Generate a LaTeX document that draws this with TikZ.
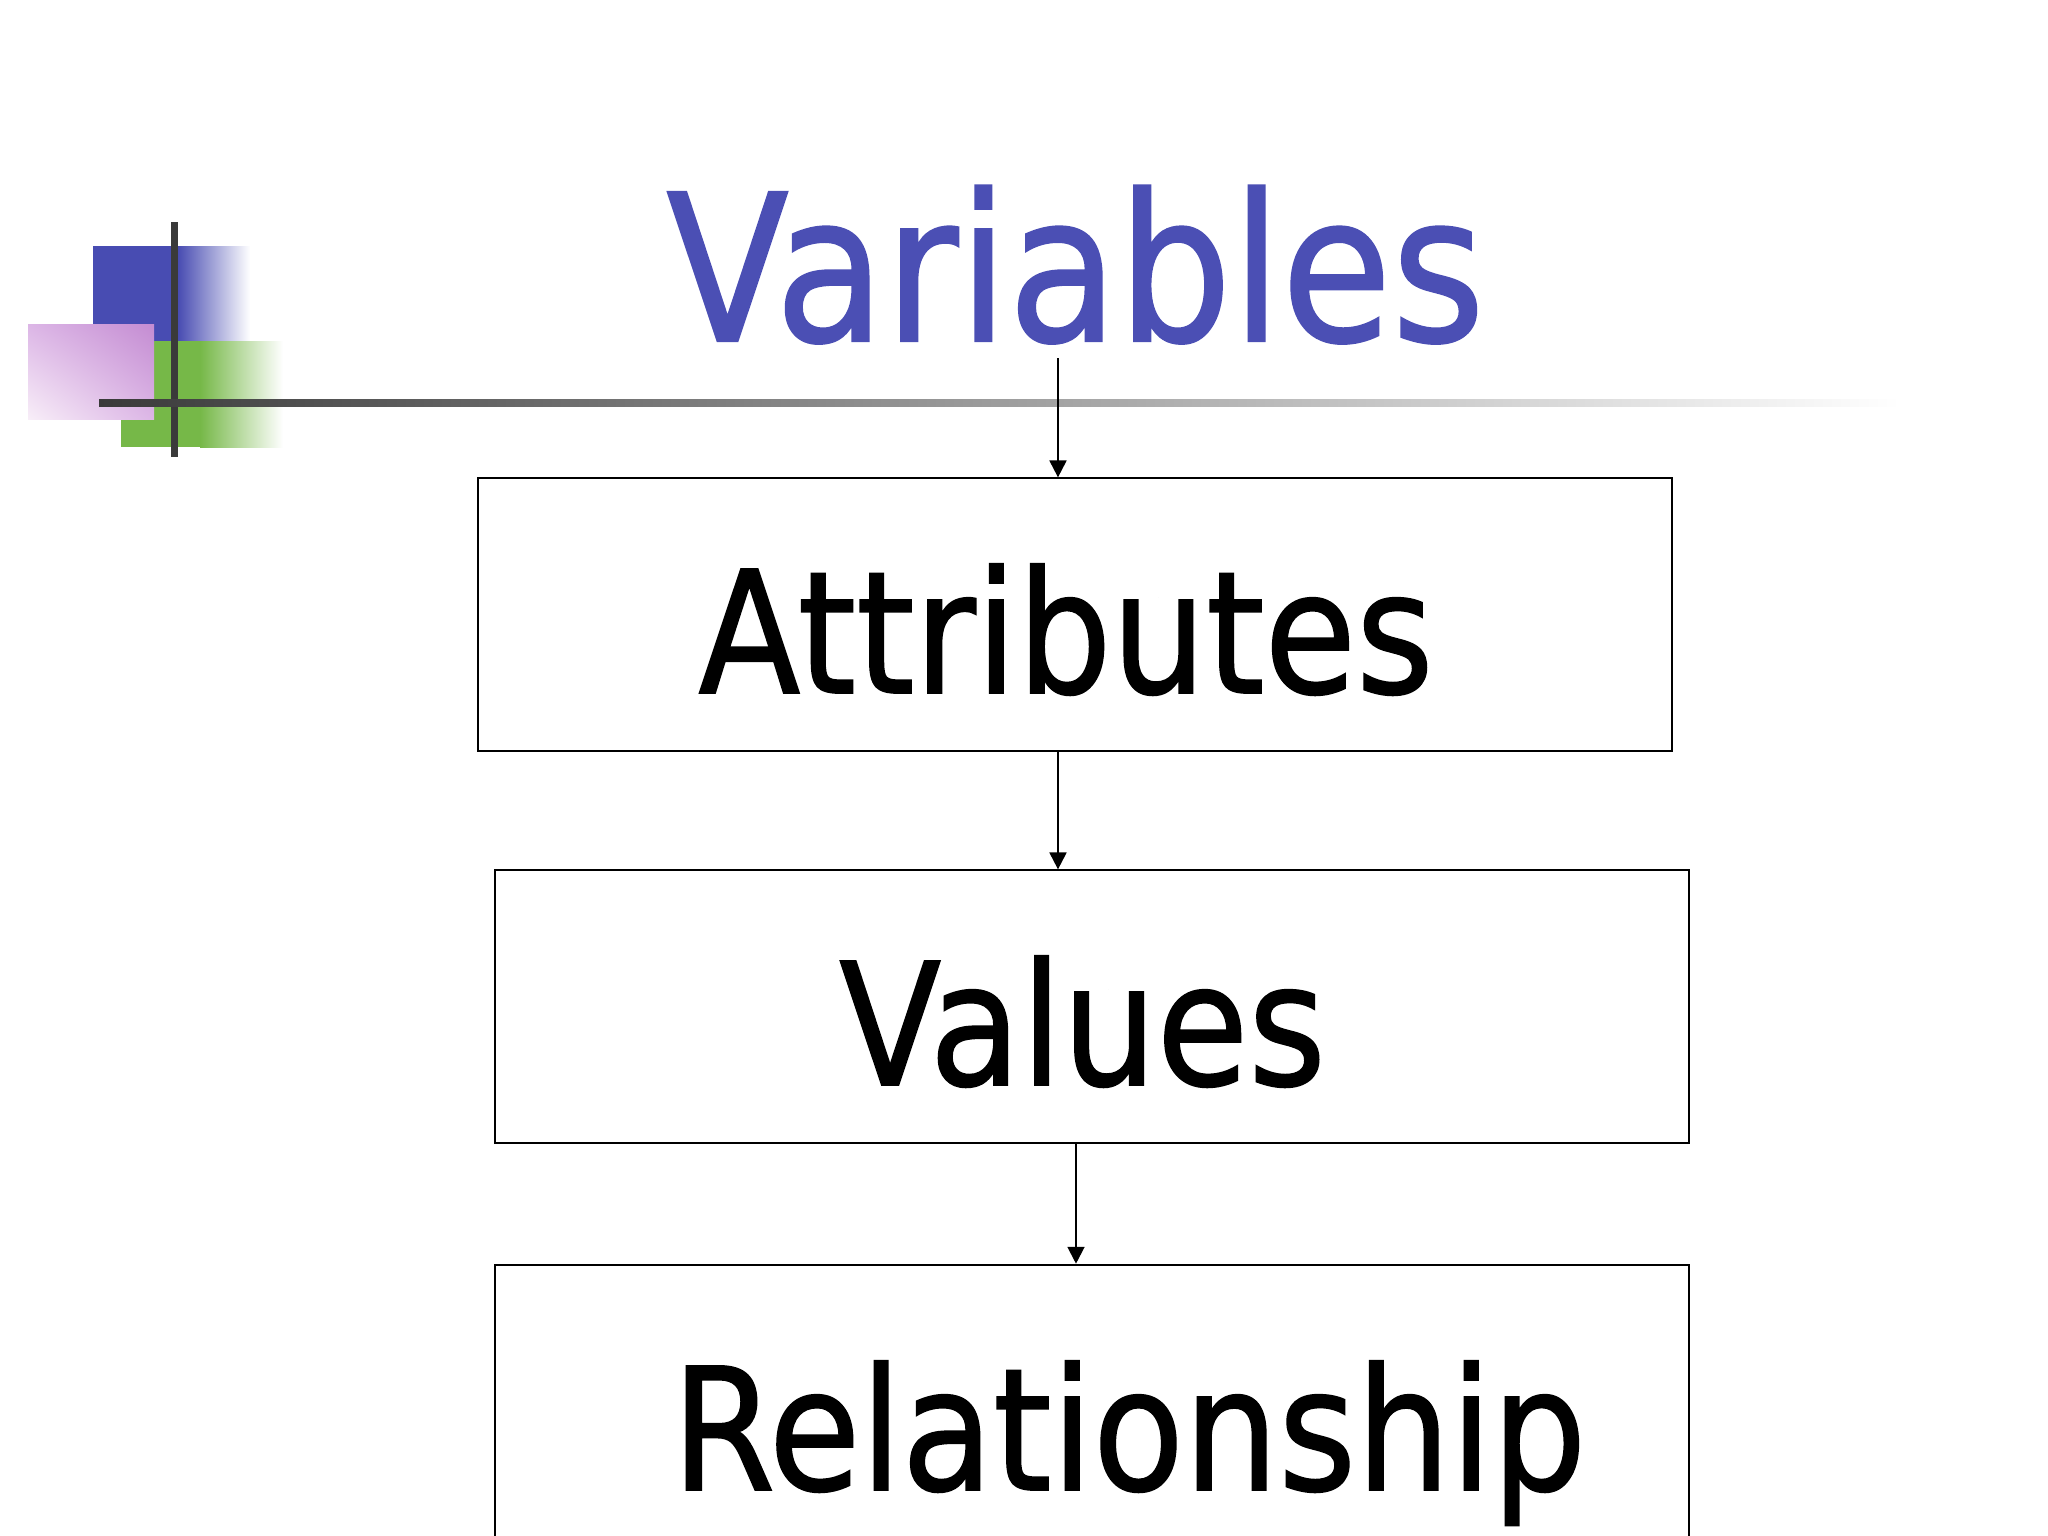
\documentclass[tikz,border=0pt]{standalone}
\usepackage{fontspec}
\newfontfamily\slidefont[FakeStretch=0.875, FakeBold=1]{DejaVu Sans}
\usetikzlibrary{arrows.meta}
\usetikzlibrary{positioning}
\usetikzlibrary{shadings}
\definecolor{titleblue}{RGB}{75,79,180}
\definecolor{deckblue}{RGB}{72,76,178}
\definecolor{deckgreen}{RGB}{118,184,72}
\definecolor{pinkdeep}{RGB}{196,140,210}
\definecolor{pinkmid}{RGB}{220,182,230}
\definecolor{pinkpale}{RGB}{248,238,248}
\definecolor{bargray}{RGB}{58,58,58}

\begin{document}
\begin{tikzpicture}[
      x = 0.01cm, y = -0.01cm,
      >= {Triangle[length=4.8pt, width=4.8pt]},
      node distance = 1.2cm,
      stage/.style = {
        draw = black, line width = 0.6pt,
        minimum width = 11.94cm, minimum height = 2.72cm,
        inner sep = 0pt
      },
      word/.style = {
        anchor = base, inner sep = 0pt,
        font = \slidefont\fontsize{48.4pt}{50pt}\selectfont
      },
      title/.style = {
        word, text = titleblue,
        font = \slidefont\fontsize{58.2pt}{60pt}\selectfont
      },
      link/.style = { ->, line width = 0.6pt },
    ]
    \useasboundingbox (0,0) rectangle (2048,1536);

    % corner ornament
    \fill[deckblue] (93,246) rectangle (178,341);
    \shade[left color = deckblue, right color = white] (178,246) rectangle (250,341);
    \fill[deckgreen] (121,341) rectangle (200,447);
    \shade[left color = deckgreen, right color = white] (200,341) rectangle (283,447);
    \shade[upper left = pinkmid, upper right = pinkdeep,
           lower left = pinkpale, lower right = pinkmid] (28,324) rectangle (154,419);
    \fill[bargray] (170.5,222) rectangle (177.5,457);
    \shade[left color = bargray, right color = white] (99,399.5) rectangle (1900,406.5);

    \node[title] (head) at (1075.5,341) {Variables};

    \node[stage] (attr) at (1075,614.5) {};
    \node[stage] (val) at (1092,1006.5) {};
    \node[stage, below = of val] (rel) {};

    \node[word] (attrtext) at (1066,693) {Attributes};
    \node[word] (valtext) at (1082.5,1085) {Values};
    \node[word] (reltext) at (1129,1490) {Relationship};

    \coordinate (tap) at (1058,358);
    \draw[link] (tap) -- (tap |- attr.north);
    \draw[link] (tap |- attr.south) -- (tap |- val.north);
    \draw[link] ([xshift=-0.16cm]val.south) -- ([xshift=-0.16cm]rel.north);
  \end{tikzpicture}
\end{document}
